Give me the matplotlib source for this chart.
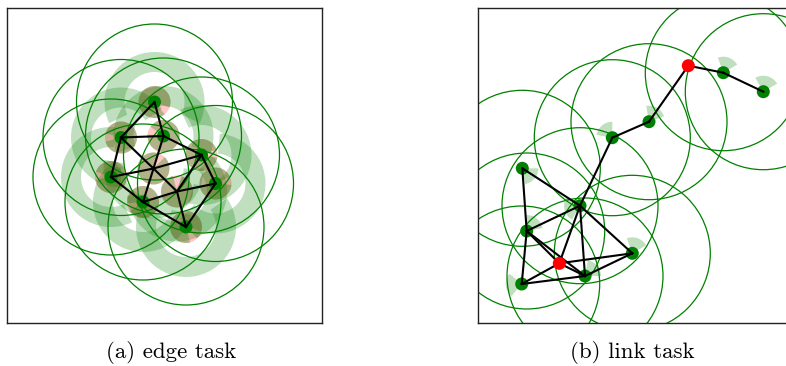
import numpy as np
import matplotlib.pyplot as plt
from matplotlib.patches import Circle, Wedge

plt.rcParams["font.family"] = "serif"
plt.rcParams["font.serif"] = ["cmr10", "DejaVu Serif"]
plt.rcParams["axes.formatter.use_mathtext"] = True

# ---- edge task (left) ----
edge_x = [147.5, 114, 156.5, 194.5, 104, 146.5, 208.5, 136, 170, 179]
edge_y = [221, 185.5, 187, 168, 146, 154.5, 139.5, 121, 131.5, 96]
edge_dot = [1, 1, 1, 1, 1, 0, 1, 1, 0, 1]
edge_ring_from = [-25, 35, -20, -105, 85, 170, -135, 125, -175, -195]
edge_ring_to = [205, 270, 200, 115, 295, 360, 85, 345, 45, 35]
edge_gap = [-35, 180, 160, 5, 175, 60, 10, 200, 90, -60]
edge_links = [(0, 1), (0, 2), (1, 2), (2, 3), (1, 4), (1, 5), (5, 8), (8, 9),
              (4, 5), (5, 3), (2, 5), (5, 7), (4, 7), (7, 8), (8, 6), (7, 9),
              (3, 6), (3, 8), (6, 9)]

# ---- link task (right) ----
link_x = [210.3, 245.3, 285.3, 171, 134.3, 44.3, 102, 48.7, 81.3, 154.3, 107, 43.7]
link_y = [257.3, 250.3, 231.3, 201.3, 185.3, 154.7, 117.3, 92, 59.7, 69.7, 47, 39]
link_red = [1, 0, 0, 0, 0, 0, 0, 0, 1, 0, 0, 0]
link_wedge_from = [0, 30, 30, 20, 90, -80, 150, 10, 0, 30, 0, 140]
link_wedge_to = [0, 110, 120, 100, 170, 0, 240, 90, 0, 110, 80, 230]
link_links = [(2, 1), (1, 0), (0, 3), (3, 4), (4, 6), (5, 6), (5, 7), (6, 7),
              (6, 9), (6, 8), (6, 10), (7, 11), (7, 8), (7, 10), (8, 9),
              (8, 11), (11, 10), (10, 9), (8, 10)]

RADIUS = 78
GREEN = "green"


def setup(ax):
    ax.set_xlim(0, 315)
    ax.set_ylim(0, 315)
    ax.set_aspect("equal")
    ax.set_xticks([])
    ax.set_yticks([])
    for s in ax.spines.values():
        s.set_linewidth(1.0)
        s.set_color("#222222")


fig = plt.figure(figsize=(7.86, 3.66), dpi=100)
h = 315 / 366
ax1 = fig.add_axes([7 / 786, 43 / 366, 315 / 786, h])
ax2 = fig.add_axes([478 / 786, 43 / 366, 315 / 786, h])

# left panel
setup(ax1)
for i, (x, y) in enumerate(zip(edge_x, edge_y)):
    ax1.add_patch(Wedge((x, y), 50, edge_ring_from[i], edge_ring_to[i], width=20,
                        color=GREEN, alpha=0.25, lw=0, zorder=1))
    ax1.add_patch(Circle((x, y), 16, color="red", alpha=0.22, lw=0, zorder=2))
    g = edge_gap[i]
    ax1.add_patch(Wedge((x, y), 16, g + 15, g + 345, color=GREEN, alpha=0.3,
                        lw=0, zorder=2))
    if edge_dot[i]:
        ax1.add_patch(Circle((x, y), RADIUS, fill=False, ec=GREEN, lw=0.9, zorder=3))
        ax1.add_patch(Circle((x, y), 6.5, color=GREEN, lw=0, zorder=4))
for a, b in edge_links:
    ax1.plot([edge_x[a], edge_x[b]], [edge_y[a], edge_y[b]], color="black",
             lw=1.5, zorder=5)

# right panel
setup(ax2)
for i, (x, y) in enumerate(zip(link_x, link_y)):
    if link_red[i]:
        ax2.add_patch(Circle((x, y), 6.5, color="red", lw=0, zorder=6))
        continue
    ax2.add_patch(Wedge((x, y), 16, link_wedge_from[i], link_wedge_to[i],
                        color=GREEN, alpha=0.25, lw=0, zorder=1))
    ax2.add_patch(Circle((x, y), RADIUS, fill=False, ec=GREEN, lw=0.9, zorder=2))
    ax2.add_patch(Circle((x, y), 6.5, color=GREEN, lw=0, zorder=3))
for a, b in link_links:
    ax2.plot([link_x[a], link_x[b]], [link_y[a], link_y[b]], color="black",
             lw=1.5, zorder=5)

fig.text(171 / 786, 1 - 352 / 366, "(a) edge task", ha="center", va="center", fontsize=16.5)
fig.text(632 / 786, 1 - 352 / 366, "(b) link task", ha="center", va="center", fontsize=16.5)

fig.savefig("out.png", dpi=100)
